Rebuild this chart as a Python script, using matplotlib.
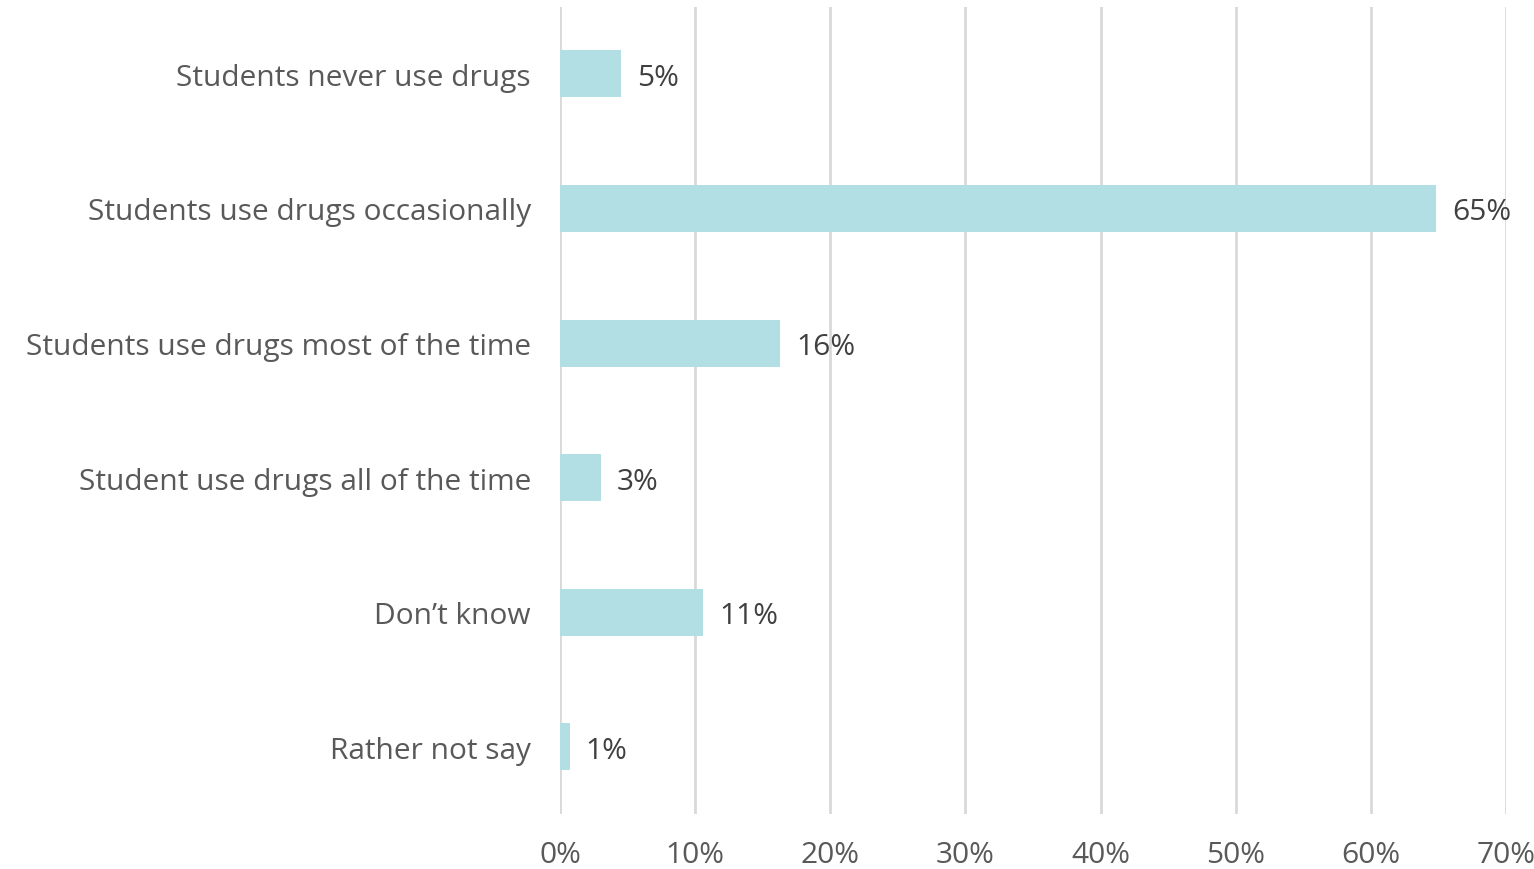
import matplotlib
matplotlib.use("Agg")
import matplotlib.pyplot as plt
from matplotlib.ticker import PercentFormatter

plt.rcParams["font.family"] = ["Open Sans", "DejaVu Sans"]

# data
categories = [
    "Students never use drugs",
    "Students use drugs occasionally",
    "Students use drugs most of the time",
    "Student use drugs all of the time",
    "Don\u2019t know",
    "Rather not say",
]
values = [4.5, 64.8, 16.3, 3.0, 10.6, 0.7]
value_labels = ["5%", "65%", "16%", "3%", "11%", "1%"]
x_ticks = [0, 10, 20, 30, 40, 50, 60, 70]

BAR = "#b1dfe3"
GRID = "#d9d9d9"
LABEL = "#595959"
VALUE = "#404040"
FS = 21.5

fig = plt.figure(figsize=(15.34, 8.7), dpi=100)
ax = fig.add_axes([0.3651, 0.0632, 0.6167, 0.928])

ypos = list(range(len(categories)))
ax.barh(ypos, values, height=0.35, color=BAR, zorder=3)

for y, v, lab in zip(ypos, values, value_labels):
    ax.text(v + 1.2, y, lab, va="center_baseline", ha="left", fontsize=FS,
            color=VALUE, zorder=4)

ax.set_yticks(ypos)
ax.set_yticklabels(categories, fontsize=FS, color=LABEL)
ax.set_ylim(len(categories) - 0.5, -0.5)

ax.set_xlim(0, 70)
ax.set_xticks(x_ticks)
ax.xaxis.set_major_formatter(PercentFormatter(decimals=0))
ax.tick_params(axis="x", labelsize=FS, labelcolor=LABEL, length=0, pad=19)
ax.tick_params(axis="y", length=0, pad=21)

ax.grid(axis="x", color=GRID, linewidth=2, zorder=0)
for s in ax.spines.values():
    s.set_visible(False)

fig.savefig("out.png", dpi=100)
